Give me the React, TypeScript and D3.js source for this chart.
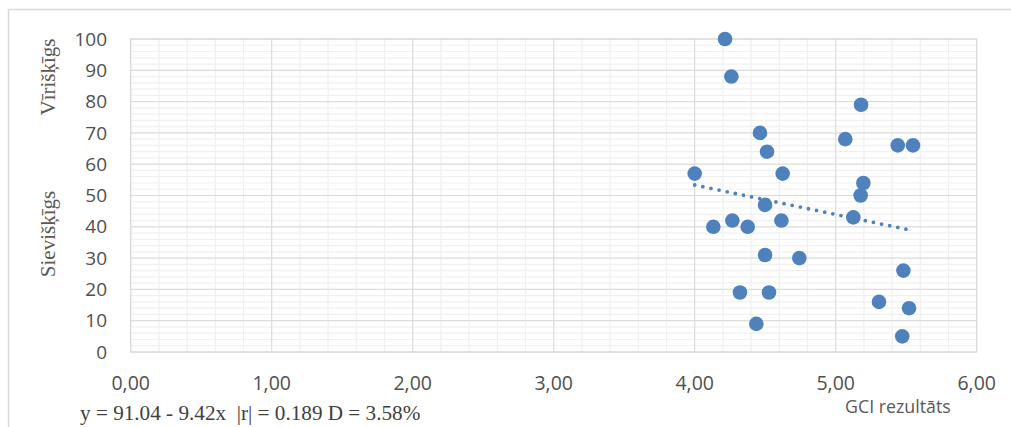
import React from "react";
import * as d3 from "d3";

const gciValues = [4.215, 4.26, 5.18, 4.463, 5.068, 5.44, 5.548, 4.513, 4.0, 4.624, 5.196, 5.177, 4.499, 5.125, 4.132, 4.267, 4.376, 4.615, 4.499, 4.742, 5.48, 4.321, 4.527, 5.307, 5.52, 4.437, 5.472];
const scoreValues = [100, 88, 79, 70, 68, 66, 66, 64, 57, 57, 54, 50, 47, 43, 40, 42, 40, 42, 31, 30, 26, 19, 19, 16, 14, 9, 5];
const xTicks = [0, 1, 2, 3, 4, 5, 6];
const yTicks = [0, 10, 20, 30, 40, 50, 60, 70, 80, 90, 100];
const trendIntercept = 91.04;
const trendSlope = -9.42;
const trendRange = [4.0, 5.5];
const equationText = "y = 91.04 - 9.42x  |r| = 0.189 D = 3.58%";
const xTitle = "GCI rezultāts";
const yTitleTop = "Vīrišķīgs";
const yTitleBottom = "Sievišķīgs";

export default function App() {
  const W = 1011, H = 427;
  const x = d3.scaleLinear().domain([0, 6]).range([130.7, 976.7]);
  const y = d3.scaleLinear().domain([0, 100]).range([352, 39]);
  const xMinor = d3.range(0, 6.0001, 0.2);
  const yMinor = d3.range(0, 100.0001, 2);
  const fmt = (v: number) => v.toFixed(2).replace(".", ",");
  const line = d3.line<number>().x((d) => x(d)).y((d) => y(trendIntercept + trendSlope * d));
  const sans = "'Open Sans', sans-serif";
  const serif = "'Liberation Serif', 'Times New Roman', serif";
  return (
    <svg width={W} height={H} style={{ position: "absolute", left: 0, top: 0, background: "#fff" }}>
      <rect x={8.5} y={9.5} width={1020} height={440} fill="#fff" stroke="#d9d9d9" strokeWidth={1.5} />
      {xMinor.map((v, i) => (
        <line key={"xm" + i} x1={x(v)} x2={x(v)} y1={y(0)} y2={y(100)} stroke="#f0f0f0" strokeWidth={1.2} />
      ))}
      {yMinor.map((v, i) => (
        <line key={"ym" + i} x1={x(0)} x2={x(6)} y1={y(v)} y2={y(v)} stroke="#f0f0f0" strokeWidth={1.2} />
      ))}
      {xTicks.map((v) => (
        <line key={"xM" + v} x1={x(v)} x2={x(v)} y1={y(0)} y2={y(100)} stroke="#d9d9d9" strokeWidth={1} />
      ))}
      {yTicks.map((v) => (
        <line key={"yM" + v} x1={x(0)} x2={x(6)} y1={y(v)} y2={y(v)} stroke="#d9d9d9" strokeWidth={1} />
      ))}
      <rect x={x(0)} y={y(100)} width={x(6) - x(0)} height={y(0) - y(100)} fill="none" stroke="#d9d9d9" strokeWidth={1} />
      {yTicks.map((v) => (
        <text key={"yl" + v} x={107} y={y(v)} dy="0.35em" textAnchor="end" fontFamily={sans} fontSize={19} fill="#505050">
          {v}
        </text>
      ))}
      {xTicks.map((v) => (
        <text key={"xl" + v} x={x(v)} y={390} textAnchor="middle" fontFamily={sans} fontSize={19.5} fill="#505050">
          {fmt(v)}
        </text>
      ))}
      <text x={845} y={413} fontFamily={sans} fontSize={17.8} fill="#595959">{xTitle}</text>
      <text transform="translate(55,77) rotate(-90)" textAnchor="middle" fontFamily={serif} fontSize={21} fill="#595959">{yTitleTop}</text>
      <text transform="translate(55,234) rotate(-90)" textAnchor="middle" fontFamily={serif} fontSize={21} fill="#595959">{yTitleBottom}</text>
      <text x={80} y={420} fontFamily={serif} fontSize={21.2} fill="#404040" style={{ whiteSpace: "pre" }}>{equationText}</text>
      {gciValues.map((g, i) => (
        <circle key={"p" + i} cx={x(g)} cy={y(scoreValues[i])} r={7.3} fill="#4f81bd" />
      ))}
      <path d={line(trendRange) || ""} fill="none" stroke="#4f81bd" strokeWidth={3.8} strokeLinecap="round" strokeDasharray="0 8.3" />
    </svg>
  );
}
